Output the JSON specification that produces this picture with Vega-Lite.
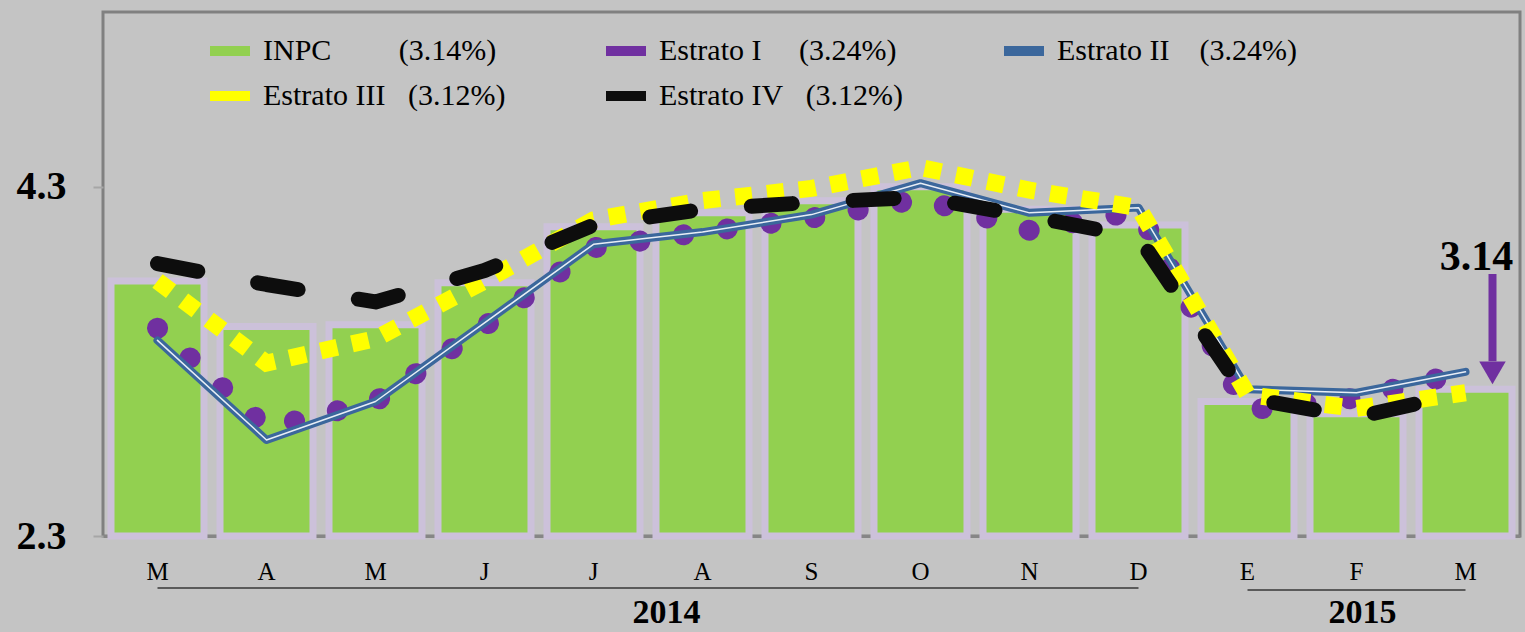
{
  "$schema": "https://vega.github.io/schema/vega-lite/v6.json",
  "width": 1417,
  "height": 524,
  "autosize": "none",
  "padding": {"left": 103, "top": 12, "right": 5, "bottom": 96},
  "background": "#c4c4c4",
  "config": {"view": {"stroke": "#808080", "strokeWidth": 3}},
  "data": {"values": [
      {"periodo": "2014-03", "serie": "INPC", "valor": 3.76},
      {"periodo": "2014-04", "serie": "INPC", "valor": 3.50},
      {"periodo": "2014-05", "serie": "INPC", "valor": 3.51},
      {"periodo": "2014-06", "serie": "INPC", "valor": 3.75},
      {"periodo": "2014-07", "serie": "INPC", "valor": 4.07},
      {"periodo": "2014-08", "serie": "INPC", "valor": 4.15},
      {"periodo": "2014-09", "serie": "INPC", "valor": 4.22},
      {"periodo": "2014-10", "serie": "INPC", "valor": 4.30},
      {"periodo": "2014-11", "serie": "INPC", "valor": 4.17},
      {"periodo": "2014-12", "serie": "INPC", "valor": 4.08},
      {"periodo": "2015-01", "serie": "INPC", "valor": 3.07},
      {"periodo": "2015-02", "serie": "INPC", "valor": 3.00},
      {"periodo": "2015-03", "serie": "INPC", "valor": 3.14},
      {"periodo": "2014-03", "serie": "Estrato I", "valor": 3.49},
      {"periodo": "2014-04", "serie": "Estrato I", "valor": 2.92},
      {"periodo": "2014-05", "serie": "Estrato I", "valor": 3.07},
      {"periodo": "2014-06", "serie": "Estrato I", "valor": 3.50},
      {"periodo": "2014-07", "serie": "Estrato I", "valor": 3.95},
      {"periodo": "2014-08", "serie": "Estrato I", "valor": 4.04},
      {"periodo": "2014-09", "serie": "Estrato I", "valor": 4.12},
      {"periodo": "2014-10", "serie": "Estrato I", "valor": 4.23},
      {"periodo": "2014-11", "serie": "Estrato I", "valor": 4.05},
      {"periodo": "2014-12", "serie": "Estrato I", "valor": 4.16},
      {"periodo": "2015-01", "serie": "Estrato I", "valor": 3.02},
      {"periodo": "2015-02", "serie": "Estrato I", "valor": 3.09},
      {"periodo": "2015-03", "serie": "Estrato I", "valor": 3.24},
      {"periodo": "2014-03", "serie": "Estrato II", "valor": 3.42},
      {"periodo": "2014-04", "serie": "Estrato II", "valor": 2.85},
      {"periodo": "2014-05", "serie": "Estrato II", "valor": 3.07},
      {"periodo": "2014-06", "serie": "Estrato II", "valor": 3.52},
      {"periodo": "2014-07", "serie": "Estrato II", "valor": 3.97},
      {"periodo": "2014-08", "serie": "Estrato II", "valor": 4.04},
      {"periodo": "2014-09", "serie": "Estrato II", "valor": 4.14},
      {"periodo": "2014-10", "serie": "Estrato II", "valor": 4.32},
      {"periodo": "2014-11", "serie": "Estrato II", "valor": 4.15},
      {"periodo": "2014-12", "serie": "Estrato II", "valor": 4.18},
      {"periodo": "2015-01", "serie": "Estrato II", "valor": 3.14},
      {"periodo": "2015-02", "serie": "Estrato II", "valor": 3.12},
      {"periodo": "2015-03", "serie": "Estrato II", "valor": 3.24},
      {"periodo": "2014-03", "serie": "Estrato III", "valor": 3.76},
      {"periodo": "2014-04", "serie": "Estrato III", "valor": 3.29},
      {"periodo": "2014-05", "serie": "Estrato III", "valor": 3.43},
      {"periodo": "2014-06", "serie": "Estrato III", "valor": 3.76},
      {"periodo": "2014-07", "serie": "Estrato III", "valor": 4.11},
      {"periodo": "2014-08", "serie": "Estrato III", "valor": 4.22},
      {"periodo": "2014-09", "serie": "Estrato III", "valor": 4.29},
      {"periodo": "2014-10", "serie": "Estrato III", "valor": 4.41},
      {"periodo": "2014-11", "serie": "Estrato III", "valor": 4.28},
      {"periodo": "2014-12", "serie": "Estrato III", "valor": 4.18},
      {"periodo": "2015-01", "serie": "Estrato III", "valor": 3.11},
      {"periodo": "2015-02", "serie": "Estrato III", "valor": 3.03},
      {"periodo": "2015-03", "serie": "Estrato III", "valor": 3.12},
      {"periodo": "2014-03", "serie": "Estrato IV", "valor": 3.86},
      {"periodo": "2014-04", "serie": "Estrato IV", "valor": 3.74},
      {"periodo": "2014-05", "serie": "Estrato IV", "valor": 3.64},
      {"periodo": "2014-06", "serie": "Estrato IV", "valor": 3.82},
      {"periodo": "2014-07", "serie": "Estrato IV", "valor": 4.08},
      {"periodo": "2014-08", "serie": "Estrato IV", "valor": 4.17},
      {"periodo": "2014-09", "serie": "Estrato IV", "valor": 4.21},
      {"periodo": "2014-10", "serie": "Estrato IV", "valor": 4.24},
      {"periodo": "2014-11", "serie": "Estrato IV", "valor": 4.13},
      {"periodo": "2014-12", "serie": "Estrato IV", "valor": 4.01},
      {"periodo": "2015-01", "serie": "Estrato IV", "valor": 3.09},
      {"periodo": "2015-02", "serie": "Estrato IV", "valor": 2.98},
      {"periodo": "2015-03", "serie": "Estrato IV", "valor": 3.12}
  ]},
  "layer": [
    {
      "transform": [{"filter": "datum.serie == 'INPC'"}],
      "mark": {"type": "bar", "stroke": "#ccc1da", "strokeWidth": 7},
      "encoding": {
        "x": {
          "field": "periodo", "type": "ordinal",
          "scale": {"paddingInner": 0.147, "paddingOuter": 0.0735},
          "axis": {
            "title": null, "labelAngle": 0,
            "labelExpr": "['E','F','M','A','M','J','J','A','S','O','N','D'][toNumber(slice(datum.value,5))-1]",
            "labelFont": "Liberation Serif", "labelFontSize": 25, "labelColor": "#000000", "labelPadding": 23,
            "domainColor": "#868686", "domainWidth": 3, "ticks": false, "grid": false
          }
        },
        "y": {
          "field": "valor", "type": "quantitative", "stack": null,
          "scale": {"domain": [2.3, 5.3], "nice": false, "zero": false, "clamp": true},
          "axis": {
            "title": null, "values": [2.3, 4.3], "format": ".1f",
            "labelFont": "Liberation Serif", "labelFontSize": 40, "labelFontWeight": "bold", "labelColor": "#000000",
            "labelPadding": 27, "domain": false, "tickColor": "#a6a6a6", "tickSize": 10, "tickWidth": 2, "grid": false
          }
        },
        "color": {
          "field": "serie", "type": "nominal",
          "scale": {
            "domain": ["INPC", "Estrato I", "Estrato II", "Estrato III", "Estrato IV"],
            "range": ["#92d050", "#7030a0", "#3b679c", "#ffff00", "#0d0d0d"]
          },
          "legend": {
            "orient": "none", "legendX": 102, "legendY": 14, "title": null,
            "direction": "horizontal", "columns": 3, "columnPadding": 80, "rowPadding": -2,
            "symbolType": "stroke", "symbolSize": 1600, "symbolStrokeWidth": 10,
            "labelFont": "Liberation Serif", "labelFontSize": 30, "labelColor": "#000000", "labelOffset": 8, "labelLimit": 0,
            "labelExpr": "datum.value=='INPC' ? 'INPC\u00a0\u00a0\u00a0\u00a0\u00a0\u00a0\u00a0\u00a0\u00a0(3.14%)' : datum.value=='Estrato I' ? 'Estrato I\u00a0\u00a0\u00a0\u00a0\u00a0(3.24%)' : datum.value=='Estrato II' ? 'Estrato II\u00a0\u00a0\u00a0\u00a0(3.24%)' : datum.value=='Estrato III' ? 'Estrato III\u00a0\u00a0\u00a0(3.12%)' : 'Estrato IV\u00a0\u00a0\u00a0(3.12%)'"
          }
        }
      }
    },
    {
      "transform": [{"filter": "datum.serie == 'Estrato I'"}],
      "mark": {"type": "line", "strokeWidth": 21, "strokeDash": [0.1, 44], "strokeCap": "round", "strokeJoin": "round"},
      "encoding": {"x": {"field": "periodo", "type": "ordinal"}, "y": {"field": "valor", "type": "quantitative"}, "color": {"field": "serie", "type": "nominal"}}
    },
    {
      "transform": [{"filter": "datum.serie == 'Estrato II'"}],
      "mark": {"type": "line", "strokeWidth": 8, "strokeCap": "round", "strokeJoin": "round"},
      "encoding": {"x": {"field": "periodo", "type": "ordinal"}, "y": {"field": "valor", "type": "quantitative"}, "color": {"field": "serie", "type": "nominal"}}
    },
    {
      "transform": [{"filter": "datum.serie == 'Estrato II'"}],
      "mark": {"type": "line", "color": "#e8eef6", "strokeWidth": 1.5, "strokeCap": "round", "strokeJoin": "round"},
      "encoding": {"x": {"field": "periodo", "type": "ordinal"}, "y": {"field": "valor", "type": "quantitative"}}
    },
    {
      "transform": [{"filter": "datum.serie == 'Estrato III'"}],
      "mark": {"type": "line", "strokeWidth": 17, "strokeDash": [17, 15], "strokeCap": "butt", "strokeJoin": "miter"},
      "encoding": {"x": {"field": "periodo", "type": "ordinal"}, "y": {"field": "valor", "type": "quantitative"}, "color": {"field": "serie", "type": "nominal"}}
    },
    {
      "transform": [{"filter": "datum.serie == 'Estrato IV'"}],
      "mark": {"type": "line", "strokeWidth": 15, "strokeDash": [41, 61], "strokeCap": "round", "strokeJoin": "round"},
      "encoding": {"x": {"field": "periodo", "type": "ordinal"}, "y": {"field": "valor", "type": "quantitative"}, "color": {"field": "serie", "type": "nominal"}}
    },
    {
      "data": {"values": [{"a": "2014-03", "b": "2014-12", "r": 2.3}]},
      "mark": {"type": "rule", "color": "#5a5a5a", "yOffset": 52, "strokeWidth": 2},
      "encoding": {"x": {"field": "a", "type": "ordinal"}, "x2": {"field": "b"}, "y": {"field": "r", "type": "quantitative"}}
    },
    {
      "data": {"values": [{"a": "2015-01", "b": "2015-03", "r": 2.3}]},
      "mark": {"type": "rule", "color": "#5a5a5a", "yOffset": 54, "strokeWidth": 2},
      "encoding": {"x": {"field": "a", "type": "ordinal"}, "x2": {"field": "b"}, "y": {"field": "r", "type": "quantitative"}}
    },
    {
      "data": {"values": [{"periodo": "2014-08", "r": 2.3, "t": "2014"}]},
      "mark": {"type": "text", "font": "Liberation Serif", "fontSize": 34, "fontWeight": "bold", "baseline": "alphabetic", "align": "center", "dy": 87, "dx": -36, "color": "#000000"},
      "encoding": {"x": {"field": "periodo", "type": "ordinal"}, "y": {"field": "r", "type": "quantitative"}, "text": {"field": "t"}}
    },
    {
      "data": {"values": [{"periodo": "2015-02", "r": 2.3, "t": "2015"}]},
      "mark": {"type": "text", "font": "Liberation Serif", "fontSize": 34, "fontWeight": "bold", "baseline": "alphabetic", "align": "center", "dy": 87, "dx": 6, "color": "#000000"},
      "encoding": {"x": {"field": "periodo", "type": "ordinal"}, "y": {"field": "r", "type": "quantitative"}, "text": {"field": "t"}}
    },
    {
      "data": {"values": [{"periodo": "2015-03", "r": 3.824, "t": "3.14"}]},
      "mark": {"type": "text", "font": "Liberation Serif", "fontSize": 42, "fontWeight": "bold", "baseline": "alphabetic", "align": "center", "dx": 11, "color": "#000000"},
      "encoding": {"x": {"field": "periodo", "type": "ordinal"}, "y": {"field": "r", "type": "quantitative"}, "text": {"field": "t"}}
    },
    {
      "data": {"values": [{"periodo": "2015-03", "a": 3.80, "b": 3.30}]},
      "mark": {"type": "rule", "color": "#7030a0", "strokeWidth": 8, "xOffset": 27},
      "encoding": {"x": {"field": "periodo", "type": "ordinal"}, "y": {"field": "a", "type": "quantitative"}, "y2": {"field": "b"}}
    },
    {
      "data": {"values": [{"periodo": "2015-03", "a": 3.234}]},
      "mark": {"type": "point", "shape": "triangle-down", "size": 700, "filled": true, "opacity": 1, "color": "#7030a0", "xOffset": 27},
      "encoding": {"x": {"field": "periodo", "type": "ordinal"}, "y": {"field": "a", "type": "quantitative"}}
    }
  ]
}
